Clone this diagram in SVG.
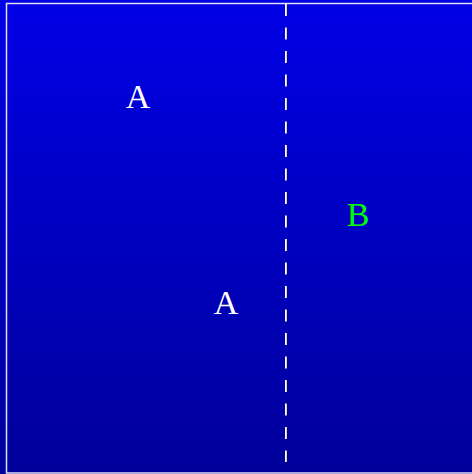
<svg xmlns="http://www.w3.org/2000/svg" width="472" height="474" viewBox="0 0 472 474">
<style>
.lbl{font-family:"Liberation Serif","Times New Roman",serif;font-size:34px;text-anchor:middle}
</style>
<defs>
<linearGradient id="bg" x1="0" y1="0" x2="0" y2="1">
<stop offset="0" stop-color="#0000e6"/>
<stop offset="1" stop-color="#00009a"/>
</linearGradient>
</defs>
<rect x="0" y="0" width="472" height="474" fill="url(#bg)"/>
<rect x="6.5" y="3.5" width="500" height="469.5" fill="none" stroke="#e0e0f4" stroke-width="1.5"/>
<g id="connectors">
<line x1="285.5" y1="4" x2="285.5" y2="462" stroke="#ffffff" stroke-width="1" stroke-dasharray="12 11.5"/>
<line x1="286.5" y1="4" x2="286.5" y2="462" stroke="#d8d890" stroke-width="1" stroke-dasharray="12 11.5"/>
</g>
<g id="nodeA1"><text class="lbl" x="138" y="108" fill="#ffffff">A</text></g>
<g id="nodeB"><text class="lbl" x="358" y="226" fill="#00ff00">B</text></g>
<g id="nodeA2"><text class="lbl" x="226" y="314" fill="#ffffff">A</text></g>
</svg>
